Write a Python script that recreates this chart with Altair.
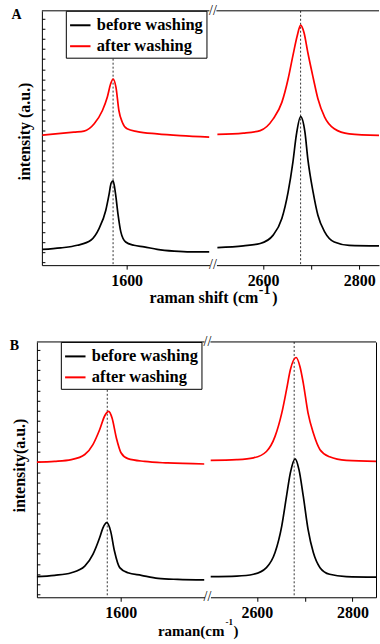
import altair as alt
import pandas as pd

SERIES = ["before washing", "after washing"]
COLORS = ["#000000", "#ff0000"]
PEAKS = [1572, 2678]

# ---------- Panel A ----------
A_G_WN_BEFORE = [1426, 1464, 1498, 1526, 1543, 1557, 1564, 1568, 1572, 1577, 1582, 1588, 1598, 1615, 1636, 1663, 1698, 1732, 1771]
A_G_I_BEFORE = [6.2, 6.8, 7.8, 9.8, 14.4, 21.6, 28.1, 32.3, 33.1, 28.1, 20.3, 13.1, 9.1, 7.8, 7.2, 6.2, 5.5, 5.2, 5.2]
A_G_WN_AFTER = [1426, 1491, 1512, 1533, 1550, 1560, 1567, 1572, 1578, 1584, 1591, 1601, 1622, 1663, 1711, 1771]
A_G_I_AFTER = [51.1, 52.3, 52.7, 55.6, 60.8, 66.0, 71.3, 73.2, 69.9, 60.8, 56.2, 53.6, 52.5, 51.6, 50.9, 50.3]

A_2D_WN_BEFORE = [2505, 2559, 2594, 2621, 2639, 2652, 2662, 2669, 2678, 2687, 2693, 2704, 2714, 2728, 2748, 2779, 2841]
A_2D_I_BEFORE = [6.9, 7.6, 8.5, 11.8, 18.3, 28.7, 40.5, 51.0, 58.4, 52.3, 41.8, 28.7, 19.6, 13.1, 9.1, 7.8, 7.6]
A_2D_WN_AFTER = [2505, 2559, 2594, 2621, 2639, 2652, 2662, 2671, 2678, 2685, 2693, 2704, 2714, 2728, 2748, 2779, 2841]
A_2D_I_AFTER = [51.4, 51.9, 52.9, 57.5, 64.0, 73.2, 82.4, 90.2, 94.4, 91.5, 83.6, 73.8, 65.4, 58.2, 53.6, 51.6, 51.0]

# ---------- Panel B ----------
B_G_WN_BEFORE = [1424, 1462, 1497, 1525, 1542, 1556, 1563, 1571, 1579, 1587, 1598, 1615, 1643, 1678, 1719, 1775]
B_G_I_BEFORE = [8.1, 8.6, 9.6, 12.2, 16.8, 23.3, 27.2, 29.2, 25.9, 18.1, 11.6, 9.6, 8.6, 7.4, 7.0, 6.8]
B_G_WN_AFTER = [1424, 1462, 1497, 1525, 1542, 1556, 1567, 1575, 1582, 1591, 1601, 1615, 1650, 1698, 1775]
B_G_I_AFTER = [52.9, 53.2, 53.9, 55.9, 59.8, 65.6, 71.2, 72.8, 70.2, 62.4, 56.5, 54.3, 53.2, 52.6, 52.2]

B_2D_WN_BEFORE = [2503, 2558, 2593, 2620, 2638, 2652, 2662, 2670, 2680, 2688, 2697, 2707, 2718, 2732, 2752, 2787, 2850]
B_2D_I_BEFORE = [8.1, 8.3, 9.0, 11.6, 17.5, 27.9, 39.6, 48.7, 54.2, 50.0, 39.6, 26.6, 17.5, 11.6, 9.0, 8.1, 7.9]
B_2D_WN_AFTER = [2503, 2558, 2593, 2620, 2638, 2652, 2662, 2670, 2682, 2690, 2697, 2707, 2718, 2732, 2752, 2787, 2850]
B_2D_I_AFTER = [53.6, 53.9, 54.6, 57.1, 63.0, 72.1, 81.3, 89.1, 93.9, 90.4, 83.9, 72.1, 64.3, 57.8, 55.0, 53.6, 53.2]

# axis ranges and ticks
A_LEFT_DOMAIN = [1425, 1771]
A_RIGHT_DOMAIN = [2503, 2841]
B_LEFT_DOMAIN = [1425, 1775]
B_RIGHT_DOMAIN = [2503, 2849]
LEFT_TICKS = [1600]
RIGHT_TICKS = [2600, 2700, 2800]
Y_DOMAIN = [0, 100]
Y_TICKS = [1, 5, 9, 13, 17, 21, 25, 29, 33, 37, 41, 45, 49, 53, 57, 61, 65, 69, 73, 77, 81, 85, 89, 93, 97]

FONT = "Liberation Serif"
one = pd.DataFrame({"k": [0]})


def series_df(wn_b, i_b, wn_a, i_a):
    return pd.DataFrame({
        "wn": list(wn_b) + list(wn_a),
        "I": list(i_b) + list(i_a),
        "sample": [SERIES[0]] * len(wn_b) + [SERIES[1]] * len(wn_a),
    })


def txt(text, x, y, size, weight="bold", align="center", angle=0):
    kw = dict(text=text, font=FONT, fontSize=size, fontWeight=weight,
              align=align, baseline="middle", color="black")
    if angle:
        kw["angle"] = angle
    return alt.Chart(one).mark_text(**kw).encode(x=alt.value(x), y=alt.value(y))


def segment(df, domain, width, height, ticks, side, legend=None,
            right_border=False, extras=()):
    xaxis = alt.Axis(values=ticks, format="d", title=None,
                     labelExpr="datum.value == 2700 ? '' : datum.label",
                     domainColor="black", tickColor="black", tickSize=4,
                     labelFont=FONT, labelFontSize=16, labelFontWeight="bold",
                     labelColor="black", labelPadding=3, grid=False)
    if side == "left":
        yaxis = alt.Axis(orient="right", offset=-width, labels=False, title=None,
                         values=Y_TICKS, tickSize=3, tickColor="black",
                         domainColor="black", grid=False)
    elif right_border:
        yaxis = alt.Axis(orient="right", labels=False, ticks=False, title=None,
                         domainColor="black", grid=False)
    else:
        yaxis = None
    xs = alt.Scale(domain=domain, nice=False, zero=False)
    lines = alt.Chart(df).mark_line(strokeWidth=1.7, clip=True, interpolate="monotone").encode(
        x=alt.X("wn:Q", scale=xs, axis=xaxis),
        y=alt.Y("I:Q", scale=alt.Scale(domain=Y_DOMAIN, nice=False, zero=False), axis=yaxis),
        color=alt.Color("sample:N", scale=alt.Scale(domain=SERIES, range=COLORS),
                        legend=legend),
        detail="sample:N",
    )
    peaks = alt.Chart(pd.DataFrame({"wn": PEAKS})).mark_rule(
        color="#333333", strokeWidth=1, strokeDash=[2, 2], clip=True
    ).encode(x=alt.X("wn:Q", scale=xs, axis=xaxis))
    top = alt.Chart(one).mark_rule(color="black", strokeWidth=1).encode(
        x=alt.value(0), x2=alt.value(width), y=alt.value(0))
    layers = [peaks, lines, top] + list(extras)
    return alt.layer(*layers).properties(width=width, height=height)


def spacer(w, h):
    return alt.Chart(one).mark_point(opacity=0).encode(
        x=alt.value(0), y=alt.value(0)).properties(width=w, height=h)


def make_legend():
    return alt.Legend(orient="none", legendX=24, legendY=0, title=None,
                      symbolType="stroke", symbolSize=420, symbolStrokeWidth=2,
                      labelFont=FONT, labelFontSize=16.5, labelFontWeight="bold",
                      labelColor="black", strokeColor="black", fillColor="white",
                      padding=3, rowPadding=1, labelOffset=5, direction="vertical",
                      zindex=2)


# Panel A
AW_L, AW_R, AH = 168, 163, 255
a_left = segment(
    series_df(A_G_WN_BEFORE, A_G_I_BEFORE, A_G_WN_AFTER, A_G_I_AFTER),
    A_LEFT_DOMAIN, AW_L, AH, LEFT_TICKS, "left", legend=make_legend(),
    extras=[
        txt("A", -25.5, 4, 14),
        txt("intensity (a.u.)", -16.5, 121, 16, angle=270),
        txt("//", AW_L + 3.5, 0, 14, weight="normal"),
        txt("//", AW_L + 3.5, AH, 14, weight="normal"),
        txt("raman shift (cm", 217, 288, 16, align="right"),
        txt("-1", 217.5, 280, 14, align="left"),
        txt(")", 231, 288, 16, align="left"),
    ])
a_right = segment(
    series_df(A_2D_WN_BEFORE, A_2D_I_BEFORE, A_2D_WN_AFTER, A_2D_I_AFTER),
    A_RIGHT_DOMAIN, AW_R, AH, RIGHT_TICKS, "right")

# Panel B
BW_L, BW_R, BH = 168, 166, 256
b_left = segment(
    series_df(B_G_WN_BEFORE, B_G_I_BEFORE, B_G_WN_AFTER, B_G_I_AFTER),
    B_LEFT_DOMAIN, BW_L, BH, LEFT_TICKS, "left", legend=make_legend(),
    extras=[
        txt("B", -22.5, 4, 14),
        txt("intensity(a.u.)", -17.2, 124, 16, angle=270),
        txt("//", BW_L + 3, 0, 14, weight="normal"),
        txt("//", BW_L + 3, BH, 14, weight="normal"),
        txt("raman(cm", 188, 290, 15, align="right"),
        txt("-1", 189, 281, 9, align="left"),
        txt(")", 197, 290, 15, align="left"),
    ])
b_right = segment(
    series_df(B_2D_WN_BEFORE, B_2D_I_BEFORE, B_2D_WN_AFTER, B_2D_I_AFTER),
    B_RIGHT_DOMAIN, BW_R, BH, RIGHT_TICKS, "right", right_border=True)

row_a = alt.hconcat(spacer(5, AH), a_left, spacer(7, AH), a_right, spacing=0,
                    bounds="flush").resolve_legend(color="independent")
row_b = alt.hconcat(b_left, spacer(6, BH), b_right, spacing=0,
                    bounds="flush").resolve_legend(color="independent")

# with flush bounds the nested row reports no height, so the gap includes panel A's height
chart = alt.vconcat(row_a, row_b, spacing=AH + 77, bounds="flush").resolve_legend(
    color="independent"
).properties(
    padding={"left": 9, "top": 3, "right": 0, "bottom": 0}
).configure_view(stroke=None).configure_axis(grid=False)

chart.save("out.html", embed_options={"renderer": "svg", "actions": False})
